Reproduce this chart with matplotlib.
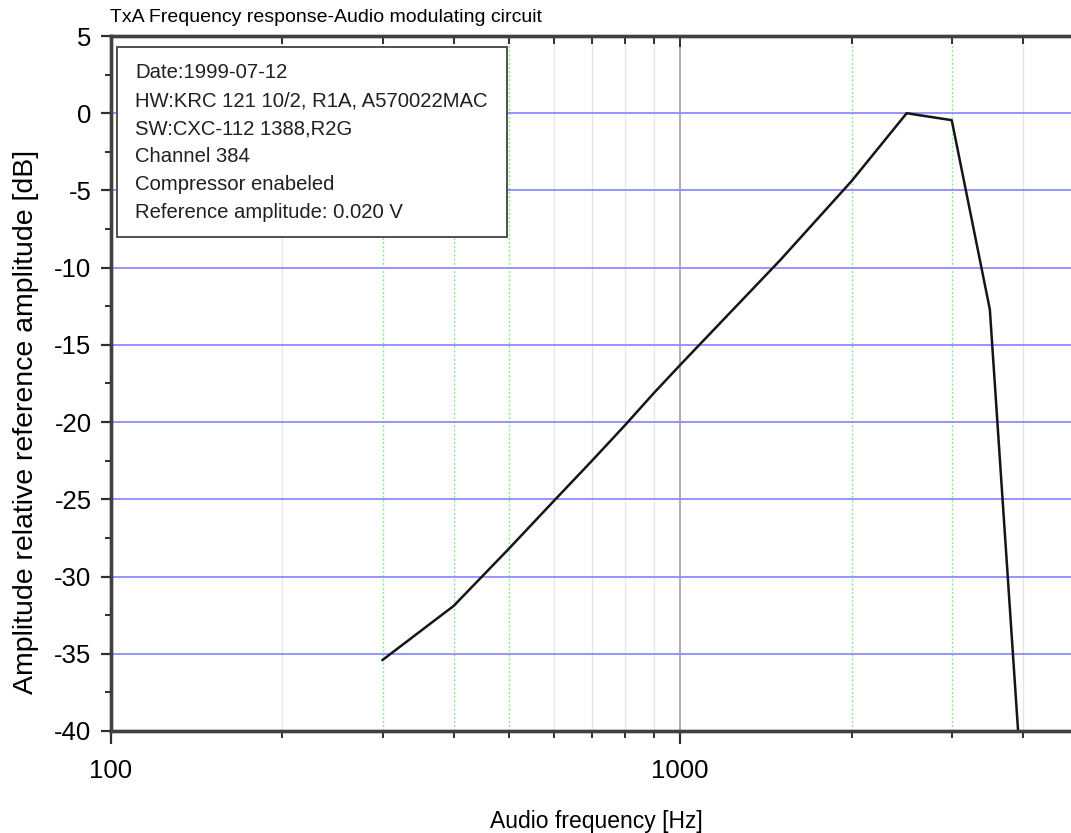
import matplotlib
matplotlib.use("Agg")
import matplotlib.pyplot as plt
from matplotlib.ticker import LogLocator, NullFormatter, FixedLocator, MultipleLocator
from matplotlib.patches import Rectangle

plt.rcParams['font.family'] = ['Liberation Sans', 'DejaVu Sans']
plt.rcParams['axes.unicode_minus'] = False

# measured response (Hz, dB)
freq = [300, 400, 500, 600, 700, 800, 900, 1000, 1500, 2000, 2500, 3000, 3500, 4000]
ampl = [-35.4, -31.9, -28.2, -25.1, -22.5, -20.2, -18.1, -16.3, -9.5, -4.4, 0.0, -0.45, -12.7, -44.6]

info_lines = ["Date:1999-07-12",
              "HW:KRC 121 10/2, R1A, A570022MAC",
              "SW:CXC-112 1388,R2G",
              "Channel 384",
              "Compressor enabeled",
              "Reference amplitude: 0.020 V"]

x_major = [100, 1000]
green_grid = [300, 400, 500, 2000, 3000]
gray_grid = [200, 600, 700, 800, 900, 4000]

W, H = 1071, 833
fig = plt.figure(figsize=(W / 100, H / 100), dpi=100)
ax = fig.add_axes([111 / W, 1 - 731 / H, (1078 - 111) / W, (731 - 36) / H])

ax.set_xscale('log')
ax.set_xlim(100, 5000)
ax.set_ylim(-40, 5)

# grid
for g in gray_grid:
    ax.axvline(g, color='#e6e6e6', lw=1.0, zorder=0)
for g in green_grid:
    ax.axvline(g, color='#8fe88f', lw=1.0, ls=(0, (1.5, 1.5)), zorder=0)
ax.axvline(1000, color='#a8a8a8', lw=1.3, zorder=0)
ax.yaxis.grid(True, which='major', color='#8c8cff', lw=1.3)
ax.set_axisbelow(True)

ax.plot(freq, ampl, color='#151515', lw=1.8, zorder=3)

# ticks
ax.xaxis.set_major_locator(FixedLocator(x_major))
ax.xaxis.set_major_formatter(plt.FuncFormatter(lambda v, p: "%d" % v))
ax.xaxis.set_minor_locator(LogLocator(base=10, subs=range(2, 10)))
ax.xaxis.set_minor_formatter(NullFormatter())
ax.yaxis.set_major_locator(MultipleLocator(5))
ax.yaxis.set_minor_locator(MultipleLocator(2.5))
ax.tick_params(axis='both', which='major', labelsize=18.5, color='#303030', width=1.6)
ax.tick_params(axis='x', which='major', direction='out', length=9, pad=11)
ax.tick_params(axis='x', which='minor', direction='out', length=5, width=1.4, color='#303030')
ax.tick_params(axis='y', which='major', direction='out', length=7, pad=7)
ax.tick_params(axis='y', which='minor', direction='out', length=4, width=1.4, color='#303030')

top = ax.twiny()
top.set_xscale('log')
top.set_xlim(ax.get_xlim())
top.xaxis.set_major_locator(FixedLocator(x_major))
top.xaxis.set_minor_locator(LogLocator(base=10, subs=range(2, 10)))
top.xaxis.set_minor_formatter(NullFormatter())
top.tick_params(which='both', direction='in', labeltop=False, color='#303030', width=1.4)
top.tick_params(which='major', length=8)
top.tick_params(which='minor', length=6)

for a in (ax, top):
    for s in a.spines.values():
        s.set_color('#404040')
        s.set_linewidth(2.4)

ax.set_xlabel("Audio frequency [Hz]", fontsize=16.5)
ax.xaxis.set_label_coords(0.5016, -0.114)
ax.set_ylabel("Amplitude relative reference amplitude [dB]", fontsize=20.5)
ax.yaxis.set_label_coords(-0.074, 0.445)
fig.text(110 / W, 1 - 18 / H, "TxA Frequency response-Audio modulating circuit",
         fontsize=14, ha='left', va='center')

# info box
ax.add_patch(Rectangle((0.0062, 0.711), 0.4033, 0.273, transform=ax.transAxes,
                       facecolor='white', edgecolor='#505050', lw=1.4, zorder=5))
for i, line in enumerate(info_lines):
    ax.text(0.0248, 0.947 - i * 28 / 695, line, transform=ax.transAxes,
            fontsize=14.6, ha='left', va='center', color='#202020', zorder=6)

fig.savefig("out.png", dpi=100)
